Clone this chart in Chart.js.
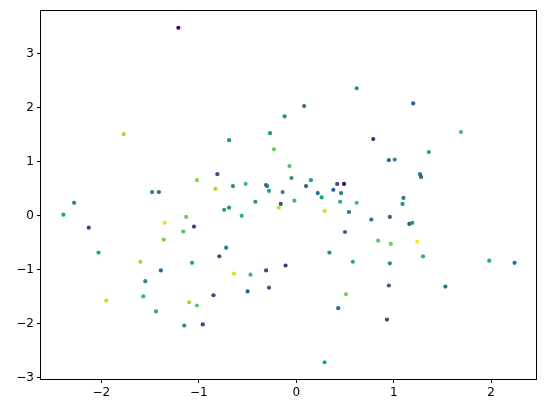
<!DOCTYPE html>
<html>
<head>
<meta charset="utf-8">
<script src="https://cdn.jsdelivr.net/npm/chart.js@4/dist/chart.umd.min.js"></script>
<style>
  body { margin: 0; background: #fff; }
  #wrap { width: 546px; height: 413px; }
</style>
</head>
<body>
<div id="wrap"><canvas id="scatterChart"></canvas></div>
<script>
// Scatter data
const xValues = [-1.77, -1.21, -0.12, -0.27, 0.08, 0.62, 1.20, 1.69, -1.48, -1.41,
  -2.28, -2.39, -2.13, -1.35, -1.36, -2.03, -0.69, -0.23, -0.07, -0.05,
  -0.81, -1.02, -0.83, -0.65, -0.52, -0.31, -0.30, -0.28, -0.14, -0.42,
  -0.16, -0.18, -0.69, -0.74, -0.56, -1.13, -1.05, -1.16, -0.72, -0.79,
  0.79, 0.95, 1.01, 0.15, 0.10, 0.42, 0.49, 0.38, 0.22, 0.26,
  0.46, -0.02, 0.45, 0.62, 0.29, 0.54, 1.10, 1.09, 0.77, 0.96,
  1.16, 1.19, 0.50, 0.84, 0.97, 0.34, 1.36, 1.27, 1.28, 1.24,
  1.30, -1.60, -1.39, -1.55, -1.57, -1.95, -1.44, -1.07, -0.64, -0.47,
  -0.31, -0.11, -0.50, -0.28, -0.85, -1.10, -1.02, -1.15, -0.96, 0.58,
  0.96, 0.95, 0.51, 0.43, 0.93, 0.29, 1.98, 2.24, 1.53];
const yValues = [1.51, 3.48, 1.84, 1.53, 2.03, 2.36, 2.08, 1.55, 0.44, 0.44,
  0.24, 0.02, -0.22, -0.13, -0.44, -0.68, 1.40, 1.23, 0.92, 0.70,
  0.77, 0.66, 0.50, 0.55, 0.59, 0.57, 0.55, 0.46, 0.44, 0.26,
  0.22, 0.15, 0.15, 0.11, 0.00, -0.02, -0.20, -0.29, -0.59, -0.75,
  1.42, 1.03, 1.04, 0.66, 0.55, 0.59, 0.59, 0.48, 0.42, 0.34,
  0.42, 0.28, 0.26, 0.24, 0.09, 0.07, 0.33, 0.22, -0.07, -0.02,
  -0.15, -0.13, -0.30, -0.46, -0.52, -0.68, 1.18, 0.77, 0.72, -0.48,
  -0.75, -0.85, -1.01, -1.21, -1.49, -1.57, -1.77, -0.87, -1.07, -1.09,
  -1.01, -0.92, -1.40, -1.33, -1.47, -1.60, -1.66, -2.03, -2.01, -0.85,
  -0.88, -1.29, -1.45, -1.71, -1.92, -2.71, -0.83, -0.87, -1.31];
// colour value per point (0..1 on the viridis map)
const colorValues = [0.87, 0.00, 0.50, 0.52, 0.38, 0.50, 0.30, 0.68, 0.42, 0.36,
  0.45, 0.58, 0.22, 0.95, 0.80, 0.60, 0.52, 0.78, 0.72, 0.50,
  0.25, 0.82, 0.88, 0.50, 0.70, 0.30, 0.35, 0.58, 0.45, 0.52,
  0.25, 0.90, 0.50, 0.55, 0.62, 0.78, 0.18, 0.72, 0.40, 0.25,
  0.12, 0.33, 0.52, 0.58, 0.30, 0.22, 0.02, 0.30, 0.35, 0.55,
  0.40, 0.68, 0.62, 0.70, 0.94, 0.40, 0.42, 0.52, 0.42, 0.32,
  0.25, 0.52, 0.30, 0.75, 0.80, 0.50, 0.60, 0.40, 0.32, 1.00,
  0.62, 0.85, 0.32, 0.45, 0.65, 0.90, 0.62, 0.58, 0.94, 0.68,
  0.20, 0.15, 0.30, 0.30, 0.20, 0.85, 0.75, 0.50, 0.20, 0.60,
  0.48, 0.28, 0.80, 0.38, 0.20, 0.60, 0.60, 0.35, 0.40];

const xTicks = [-2, -1, 0, 1, 2];
const yTicks = [-3, -2, -1, 0, 1, 2, 3];

// viridis stops
const viridis = ['#440154', '#482475', '#414487', '#355f8d', '#2a788e', '#21918c',
  '#22a884', '#44bf70', '#7ad151', '#bddf26', '#fde725'];

function hexToRgb(h) {
  return [parseInt(h.slice(1, 3), 16), parseInt(h.slice(3, 5), 16), parseInt(h.slice(5, 7), 16)];
}

function viridisColor(t) {
  const pos = Math.max(0, Math.min(1, t)) * (viridis.length - 1);
  const i = Math.min(Math.floor(pos), viridis.length - 2);
  const f = pos - i;
  const a = hexToRgb(viridis[i]), b = hexToRgb(viridis[i + 1]);
  const c = a.map((v, k) => Math.round(v + (b[k] - v) * f));
  return `rgb(${c[0]},${c[1]},${c[2]})`;
}

const points = xValues.map((x, i) => ({ x: x, y: yValues[i] }));
const colors = colorValues.map(viridisColor);

const fmt = v => (v < 0 ? '\u2212' + Math.abs(v) : String(v));

// box around the plot area
const frame = {
  id: 'frame',
  afterDraw(chart) {
    const a = chart.chartArea;
    const c = chart.ctx;
    c.save();
    c.strokeStyle = '#000';
    c.lineWidth = 1;
    c.strokeRect(a.left - 0.5, a.top - 0.5, a.right - a.left + 1, a.bottom - a.top + 1);
    c.restore();
  }
};

const tickFont = { family: 'DejaVu Sans', size: 12 };

new Chart(document.getElementById('scatterChart').getContext('2d'), {
  type: 'scatter',
  data: {
    datasets: [{
      data: points,
      backgroundColor: colors,
      borderWidth: 0,
      pointRadius: 2.1,
      pointHoverRadius: 2.1
    }]
  },
  options: {
    responsive: true,
    maintainAspectRatio: false,
    animation: false,
    events: [],
    layout: { padding: { top: 11, right: 10, left: 0, bottom: 0 } },
    plugins: { legend: { display: false }, tooltip: { enabled: false } },
    scales: {
      x: {
        type: 'linear',
        min: -2.62,
        max: 2.46,
        border: { display: false },
        grid: { drawOnChartArea: false, drawTicks: true, tickLength: 4, color: '#000' },
        ticks: { color: '#000', font: tickFont, padding: 3, callback: fmt, maxRotation: 0 },
        afterBuildTicks: s => { s.ticks = xTicks.map(v => ({ value: v })); },
        afterFit: s => { s.height = 34; }
      },
      y: {
        type: 'linear',
        min: -3.02,
        max: 3.79,
        border: { display: false },
        grid: { drawOnChartArea: false, drawTicks: true, tickLength: 4, color: '#000' },
        ticks: { color: '#000', font: tickFont, padding: 3, callback: fmt },
        afterBuildTicks: s => { s.ticks = yTicks.map(v => ({ value: v })); },
        afterFit: s => { s.width = 41; }
      }
    }
  },
  plugins: [frame]
});
</script>
</body>
</html>
